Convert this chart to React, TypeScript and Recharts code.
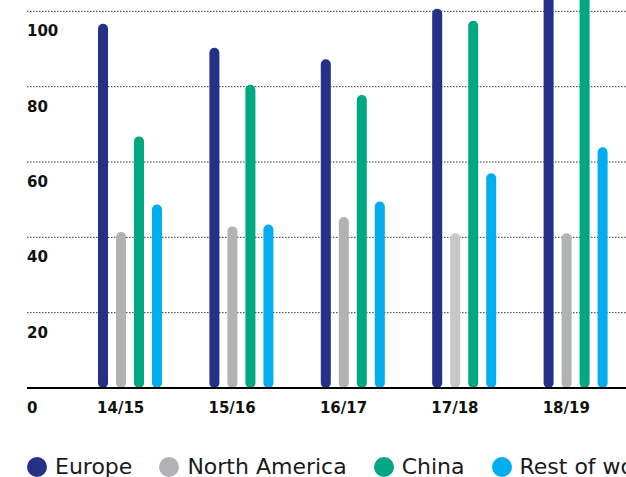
import React from 'react';
import { BarChart, Bar, XAxis, YAxis, CartesianGrid, Cell } from 'recharts';

const categories = ['14/15', '15/16', '16/17', '17/18', '18/19'];
const europe = [96.7, 90.3, 87.3, 100.7, 112];
const northAmerica = [41.4, 42.9, 45.4, 41.1, 41.1];
const china = [66.8, 80.5, 77.8, 97.5, 110];
const restOfWorld = [48.7, 43.4, 49.5, 57.0, 63.9];
const yTicks = [0, 20, 40, 60, 80, 100];
// the 17/18 North America bar is drawn in a paler grey
const fadedCategory = '17/18';

const series = [
  { key: 'europe', name: 'Europe', color: '#253087' },
  { key: 'northAmerica', name: 'North America', color: '#b1b2b4' },
  { key: 'china', name: 'China', color: '#00a783' },
  { key: 'restOfWorld', name: 'Rest of world', color: '#00aeef' },
];

const data = categories.map((cat, i) => ({
  cat,
  europe: europe[i],
  northAmerica: northAmerica[i],
  china: china[i],
  restOfWorld: restOfWorld[i],
}));

const tickFont = '"DejaVu Sans", sans-serif';

const YTick = (props: any) => {
  const { y, payload } = props;
  return (
    <text x={27} y={y} dy={25} textAnchor="start" fill="#111" fontSize={15} fontWeight={700} fontFamily={tickFont}>
      {payload.value}
    </text>
  );
};

const XTick = (props: any) => {
  const { x, y, payload } = props;
  return (
    <text x={x - 9} y={y} dy={25} textAnchor="middle" fill="#111" fontSize={15} fontWeight={700} fontFamily={tickFont}>
      {payload.value}
    </text>
  );
};

const App = () => {
  return (
    <div style={{ position: 'absolute', left: 0, top: 0, width: 626, height: 477, overflow: 'hidden', background: '#fff' }}>
      <div style={{ position: 'absolute', left: 0, top: -64 }}>
        <BarChart
          width={640}
          height={520}
          data={data}
          margin={{ top: 0, right: 9, left: 0, bottom: 0 }}
          barSize={10}
          barGap={8}
        >
          <CartesianGrid vertical={false} stroke="#333" strokeDasharray="1.5 1.5" />
          <YAxis
            width={27}
            domain={[0, 120]}
            ticks={yTicks}
            axisLine={false}
            tickLine={false}
            tickSize={0}
            tickMargin={0}
            tick={<YTick />}
            allowDataOverflow
          />
          <XAxis
            dataKey="cat"
            height={68}
            padding={{ left: 47, right: 0 }}
            axisLine={{ stroke: '#000', strokeWidth: 2 }}
            tickLine={false}
            tickSize={0}
            tickMargin={0}
            tick={<XTick />}
            interval={0}
          />
          {series.map((s) => (
            <Bar
              key={s.key}
              dataKey={s.key}
              name={s.name}
              fill={s.color}
              radius={[5, 5, 5, 5]}
              isAnimationActive={false}
            >
              {s.key === 'northAmerica' &&
                categories.map((cat) => (
                  <Cell key={cat} fill={cat === fadedCategory ? '#c6c7c6' : s.color} />
                ))}
            </Bar>
          ))}
        </BarChart>
      </div>
      <div
        style={{
          position: 'absolute',
          left: 27,
          top: 456,
          display: 'flex',
          alignItems: 'center',
          whiteSpace: 'nowrap',
          fontFamily: tickFont,
          fontSize: 22,
          lineHeight: '21px',
          color: '#1a1a1a',
        }}
      >
        {series.map((s) => (
          <div key={s.key} style={{ display: 'flex', alignItems: 'center', marginRight: 27 }}>
            <span style={{ width: 20, height: 20, borderRadius: 10, background: s.color, marginRight: 8, flex: 'none' }} />
            <span>{s.name}</span>
          </div>
        ))}
      </div>
    </div>
  );
};

export default App;
